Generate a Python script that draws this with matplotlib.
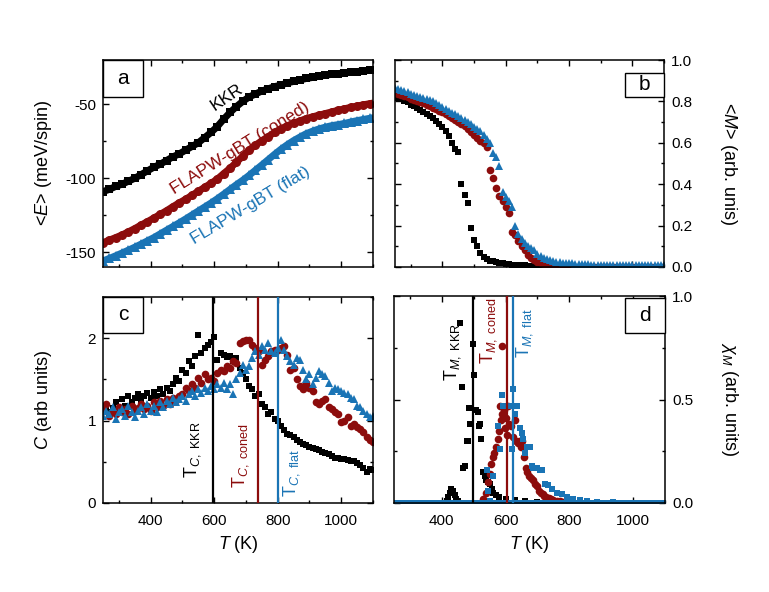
import numpy as np
import matplotlib
matplotlib.use('Agg')
import matplotlib.pyplot as plt
from matplotlib.ticker import MultipleLocator, FormatStrFormatter
from matplotlib.patches import Rectangle

plt.rcParams['font.family'] = ['Liberation Sans', 'DejaVu Sans']
plt.rcParams['mathtext.fontset'] = 'custom'
plt.rcParams['mathtext.rm'] = 'Liberation Sans'
plt.rcParams['mathtext.it'] = 'Liberation Sans:italic'
plt.rcParams['mathtext.bf'] = 'Liberation Sans:bold'
plt.rcParams['axes.unicode_minus'] = False

BLACK = '#000000'
RED = '#8c0c0c'
BLUE = '#1a74b5'

# ---------------- panel a: energy ----------------
T_a = np.arange(250, 1100, 20)
E_kkr = [-109, -107.5, -105.5, -104, -102, -100, -97.5, -95, -92.5, -90.5,
         -88, -85.5, -83.5, -81, -78.5, -76, -72.5, -69, -65, -60,
         -55.5, -51.5, -48, -45, -43, -41, -39.5, -38, -37, -35.5,
         -34.5, -33.5, -32.5, -31.8, -31, -30.3, -29.7, -29.2, -28.7, -28.2,
         -27.8, -27.4, -27]
E_coned = [-143.5, -141.8, -140.1, -138.3, -136.2, -134, -131.6, -129.3, -126.9, -124.4,
           -121.9, -119.2, -116.6, -114.2, -111.5, -108.8, -106.1, -103.4, -100.5, -96.8,
           -93.2, -89.2, -85, -80.8, -77.6, -74.6, -71.8, -69, -66.5, -64.5,
           -62.7, -61.2, -59.6, -58.4, -57.3, -56.2, -55.1, -54, -53, -52,
           -51.1, -50.3, -49.5]
E_flat = [-155.9, -154.2, -152.4, -150.5, -148.6, -146.6, -144.5, -142.3, -140.1, -137.6,
          -135.1, -132.6, -130.1, -127.5, -124.8, -122.1, -119.4, -116.7, -113.8, -110.7,
          -107.5, -104.3, -101.3, -98, -94.5, -91, -87.4, -83.8, -80.4, -77.3,
          -74.5, -72.1, -69.8, -68.1, -66.6, -65.4, -64.4, -63.7, -62.9, -61.9,
          -61, -60.2, -59.4]

# ---------------- panel b: magnetisation ----------------
T_b = np.arange(250, 1101, 10)
M_kkr = [0.820, 0.815, 0.810, 0.800, 0.795, 0.785, 0.780, 0.770, 0.760, 0.750,
         0.740, 0.730, 0.720, 0.705, 0.690, 0.675, 0.655, 0.635, 0.600, 0.570,
         0.555, 0.400, 0.350, 0.310, 0.190, 0.130, 0.100, 0.070, 0.050, 0.040,
         0.030, 0.028, 0.025, 0.020, 0.018, 0.015, 0.013, 0.012, 0.011, 0.010,
         0.009, 0.008, 0.007, 0.006, 0.006, 0.005, 0.005, 0.004, 0.004, 0.003,
         0.003, 0.002, 0.002, 0.002, 0.001, 0.001, 0, 0, 0, 0,
         0, 0, 0, 0, 0, 0, 0, 0, 0, 0,
         0, 0, 0, 0, 0, 0, 0, 0, 0, 0,
         0, 0, 0, 0, 0, 0]
M_coned = [0.840, 0.835, 0.830, 0.825, 0.820, 0.810, 0.805, 0.800, 0.795, 0.790,
           0.785, 0.780, 0.770, 0.765, 0.755, 0.750, 0.740, 0.730, 0.720, 0.710,
           0.700, 0.690, 0.680, 0.665, 0.650, 0.640, 0.625, 0.610, 0.600, 0.580,
           0.470, 0.430, 0.380, 0.345, 0.320, 0.290, 0.260, 0.170, 0.155, 0.125,
           0.100, 0.080, 0.060, 0.045, 0.035, 0.025, 0.020, 0.015, 0.010, 0.008,
           0.006, 0.005, 0.004, 0.003, 0.002, 0.002, 0, 0, 0, 0,
           0, 0, 0, 0, 0, 0, 0, 0, 0, 0,
           0, 0, 0, 0, 0, 0, 0, 0, 0, 0,
           0, 0, 0, 0, 0, 0]
M_flat = [0.865, 0.860, 0.855, 0.850, 0.845, 0.835, 0.830, 0.825, 0.820, 0.815,
          0.810, 0.805, 0.800, 0.790, 0.785, 0.775, 0.765, 0.755, 0.745, 0.740,
          0.730, 0.720, 0.710, 0.700, 0.690, 0.675, 0.665, 0.655, 0.640, 0.620,
          0.600, 0.550, 0.530, 0.490, 0.360, 0.340, 0.320, 0.290, 0.200, 0.160,
          0.135, 0.115, 0.100, 0.090, 0.080, 0.065, 0.055, 0.045, 0.040, 0.035,
          0.030, 0.025, 0.023, 0.021, 0.020, 0.018, 0.017, 0.016, 0.015, 0.014,
          0.013, 0.013, 0.012, 0.012, 0.011, 0.011, 0.010, 0.010, 0.010, 0.009,
          0.009, 0.009, 0.009, 0.008, 0.008, 0.008, 0.008, 0.008, 0.008, 0.008,
          0.008, 0.008, 0.008, 0.008, 0.008, 0.008]

# ---------------- panel c: specific heat ----------------
T_c = np.arange(250, 1101, 10)
C_kkr = [1.12, 1.18, 1.10, 1.15, 1.22, 1.12, 1.26, 1.18, 1.30, 1.22,
         1.28, 1.32, 1.25, 1.30, 1.34, 1.28, 1.35, 1.30, 1.38, 1.32,
         1.40, 1.36, 1.45, 1.52, 1.48, 1.62, 1.58, 1.72, 1.66, 1.78,
         2.04, 1.82, 1.88, 1.92, 1.95, 2.02, 1.74, 1.82, 1.80, 1.77,
         1.78, 1.72, 1.76, 1.64, 1.58, 1.50, 1.42, 1.38, 1.30, 1.32,
         1.20, 1.16, 1.08, 1.10, 1.02, 1.00, 0.94, 0.88, 0.84, 0.82,
         0.80, 0.77, 0.74, 0.71, 0.70, 0.68, 0.67, 0.65, 0.64, 0.62,
         0.61, 0.59, 0.57, 0.55, 0.55, 0.53, 0.53, 0.52, 0.51, 0.51,
         0.48, 0.46, 0.42, 0.38, 0.41, 0.40]
C_coned = [1.15, 1.20, 1.05, 1.12, 1.08, 1.16, 1.10, 1.14, 1.08, 1.18,
           1.12, 1.15, 1.20, 1.14, 1.18, 1.12, 1.22, 1.16, 1.24, 1.18,
           1.26, 1.20, 1.28, 1.25, 1.30, 1.32, 1.40, 1.36, 1.44, 1.40,
           1.52, 1.46, 1.56, 1.50, 1.52, 1.48, 1.58, 1.62, 1.60, 1.66,
           1.64, 1.72, 1.70, 1.94, 1.96, 1.98, 1.98, 1.92, 1.88, 1.85,
           1.68, 1.74, 1.78, 1.84, 1.86, 1.86, 1.88, 1.90, 1.80, 1.62,
           1.64, 1.50, 1.42, 1.38, 1.46, 1.40, 1.36, 1.22, 1.20, 1.24,
           1.26, 1.16, 1.14, 1.10, 1.08, 0.98, 1.00, 1.04, 0.94, 0.96,
           0.92, 0.90, 0.86, 0.80, 0.76, 0.74]
C_flat = [1.05, 1.12, 1.08, 1.16, 1.02, 1.10, 1.14, 1.06, 1.18, 1.10,
          1.04, 1.12, 1.16, 1.08, 1.20, 1.12, 1.18, 1.10, 1.22, 1.16,
          1.24, 1.20, 1.28, 1.22, 1.26, 1.30, 1.24, 1.32, 1.36, 1.30,
          1.38, 1.34, 1.40, 1.36, 1.42, 1.38, 1.44, 1.40, 1.46, 1.38,
          1.44, 1.32, 1.50, 1.58, 1.68, 1.62, 1.66, 1.76, 1.84, 1.80,
          1.90, 1.86, 1.94, 1.84, 1.82, 1.88, 1.98, 1.86, 1.78, 1.72,
          1.68, 1.76, 1.74, 1.62, 1.50, 1.56, 1.44, 1.52, 1.60, 1.56,
          1.54, 1.46, 1.36, 1.40, 1.38, 1.36, 1.34, 1.32, 1.28, 1.26,
          1.18, 1.16, 1.12, 1.08, 1.04, 1.06]
Tc_kkr, Tc_coned, Tc_flat = 597, 739, 800

# ---------------- panel d: susceptibility ----------------
T_d_base = np.arange(250, 1101, 5)
chi_base = [0.0] * len(T_d_base)
Td_kkr = [415, 420, 425, 430, 435, 440, 445, 450, 457, 462, 467, 472, 478, 481, 485, 488,
          499, 502, 508, 512, 516, 521, 523, 530, 535, 540, 545, 550, 556, 562, 570, 580,
          600, 630, 660, 700, 740, 780]
chi_kkr = [0.01, 0.03, 0.05, 0.07, 0.06, 0.04, 0.02, 0.01, 0.87, 0.56, 0.17, 0.18, 0.30, 0.30, 0.46, 0.38,
           0.77, 0.62, 0.45, 0.44, 0.37, 0.38, 0.31, 0.15, 0.13, 0.11, 0.10, 0.09, 0.07, 0.05, 0.04, 0.03,
           0.02, 0.015, 0.01, 0.007, 0.005, 0.003]
Td_coned = [530, 540, 545, 550, 555, 560, 565, 570, 575, 578, 582, 585, 588, 590, 594, 597,
            600, 603, 607, 612, 618, 623, 628, 633, 638, 643, 648, 653, 658, 663, 668, 674,
            680, 686, 692, 698, 704, 710, 716, 722, 728, 735, 742, 750, 760, 770, 780, 790]
chi_coned = [0.02, 0.05, 0.10, 0.14, 0.19, 0.22, 0.24, 0.27, 0.31, 0.35, 0.47, 0.40, 0.76, 0.43, 0.45, 0.36,
             0.41, 0.33, 0.47, 0.38, 0.37, 0.32, 0.40, 0.30, 0.29, 0.30, 0.27, 0.30, 0.22, 0.17, 0.15, 0.13,
             0.12, 0.11, 0.09, 0.08, 0.06, 0.05, 0.045, 0.035, 0.03, 0.025, 0.02, 0.015, 0.01, 0.008, 0.005, 0.003]
Td_flat = [541, 546, 551, 562, 577, 583, 588, 593, 603, 614, 619, 624, 630, 635, 645, 651,
           656, 661, 666, 677, 682, 687, 698, 708, 713, 724, 734, 745, 760, 776, 792, 813,
           834, 855, 886, 938]
chi_flat = [0.16, 0.06, 0.01, 0.13, 0.37, 0.26, 0.52, 0.47, 0.47, 0.47, 0.26, 0.55, 0.43, 0.47, 0.36, 0.34,
            0.31, 0.24, 0.27, 0.27, 0.18, 0.17, 0.17, 0.16, 0.16, 0.09, 0.085, 0.07, 0.05, 0.045, 0.03, 0.02,
            0.013, 0.01, 0.005, 0.003]
Tm_kkr, Tm_coned, Tm_flat = 497, 604, 624

# ---------------- figure ----------------
W, H = 769, 592
fig = plt.figure(figsize=(W / 100, H / 100), dpi=100)


def add_ax(x0, y0, x1, y1):
    return fig.add_axes([x0 / W, 1 - y1 / H, (x1 - x0) / W, (y1 - y0) / H])


ax_a = add_ax(103, 60, 373, 267)
ax_b = add_ax(395, 60, 664, 267)
ax_c = add_ax(103, 297, 373, 503)
ax_d = add_ax(394, 296, 665, 503)
boxes = {ax_a: ((103, 60, 373, 267), (103, 60, 143, 97), 'a'),
         ax_b: ((395, 60, 664, 267), (625, 73, 664, 97), 'b'),
         ax_c: ((103, 297, 373, 503), (103, 297, 143, 333), 'c'),
         ax_d: ((394, 296, 665, 503), (625, 298, 665, 333), 'd')}

for ax in (ax_a, ax_b, ax_c, ax_d):
    ax.set_xlim(250, 1100)
    ax.xaxis.set_major_locator(MultipleLocator(200))
    ax.xaxis.set_minor_locator(MultipleLocator(100))
    ax.tick_params(which='both', direction='in', top=True, right=True,
                   left=True, bottom=True, width=1.0, labelsize=11)
    ax.tick_params(axis='x', which='both', pad=8)
    ax.tick_params(axis='y', which='both', pad=5)
    ax.tick_params(which='major', length=4.5)
    ax.tick_params(which='minor', length=2.5)
    for s in ax.spines.values():
        s.set_linewidth(1.1)
    (ax0, ay0, ax1, ay1), (bx0, by0, bx1, by1), letter = boxes[ax]
    fx0 = (bx0 - ax0) / (ax1 - ax0)
    fx1 = (bx1 - ax0) / (ax1 - ax0)
    fy0 = 1 - (by1 - ay0) / (ay1 - ay0)
    fy1 = 1 - (by0 - ay0) / (ay1 - ay0)
    ax.add_patch(Rectangle((fx0, fy0), fx1 - fx0, fy1 - fy0, transform=ax.transAxes,
                           facecolor='white', edgecolor='black', lw=1.0, zorder=10,
                           clip_on=False))
    ax.text((fx0 + fx1) / 2, (fy0 + fy1) / 2, letter, transform=ax.transAxes,
            ha='center', va='center', fontsize=15, zorder=11)

for ax in (ax_a, ax_b):
    ax.tick_params(labelbottom=False)

# panel a
ax_a.plot(T_a, E_kkr, ls='-', lw=5, color=BLACK, marker='s', ms=6, mew=0)
ax_a.plot(T_a, E_coned, ls='-', lw=5, color=RED, marker='o', ms=6.5, mew=0)
ax_a.plot(T_a, E_flat, ls='-', lw=5, color=BLUE, marker='^', ms=7, mew=0)
ax_a.set_ylim(-160, -20)
ax_a.yaxis.set_major_locator(MultipleLocator(50))
ax_a.yaxis.set_minor_locator(MultipleLocator(25))
ax_a.set_ylabel(r'<$\mathit{E}$> (meV/spin)', fontsize=13)
ax_a.yaxis.set_label_coords(-0.18, 0.5)
ax_a.text(640, -45.5, 'KKR', rotation=34, rotation_mode='anchor', ha='center',
          va='center', fontsize=12.5, color=BLACK)
ax_a.text(680, -79.5, 'FLAPW-gBT (coned)', rotation=32, rotation_mode='anchor',
          ha='center', va='center', fontsize=12.5, color=RED)
ax_a.text(715, -118.5, 'FLAPW-gBT (flat)', rotation=31, rotation_mode='anchor',
          ha='center', va='center', fontsize=12.5, color=BLUE)

# panel b
ax_b.plot(T_b, M_kkr, ls='none', color=BLACK, marker='s', ms=4.5, mew=0)
ax_b.plot(T_b, M_coned, ls='none', color=RED, marker='o', ms=5.5, mew=0)
ax_b.plot(T_b, M_flat, ls='none', color=BLUE, marker='^', ms=6, mew=0)
ax_b.set_ylim(0, 1)
ax_b.yaxis.set_major_locator(MultipleLocator(0.2))
ax_b.yaxis.set_minor_locator(MultipleLocator(0.1))
ax_b.yaxis.set_major_formatter(FormatStrFormatter('%.1f'))
ax_b.tick_params(labelleft=False, labelright=True)
ax_b.yaxis.set_label_position('right')
ax_b.set_ylabel(r'<$\mathit{M}$> (arb. unis)', fontsize=13, rotation=270, va='bottom')
ax_b.yaxis.set_label_coords(1.2, 0.5)

# panel c
ax_c.plot(T_c, C_kkr, ls='none', color=BLACK, marker='s', ms=4.8, mew=0)
ax_c.plot(T_c, C_coned, ls='none', color=RED, marker='o', ms=5.5, mew=0)
ax_c.plot(T_c, C_flat, ls='none', color=BLUE, marker='^', ms=6, mew=0)
ax_c.axvline(Tc_kkr, color=BLACK, lw=1.6, zorder=5)
ax_c.axvline(Tc_coned, color=RED, lw=1.6, zorder=5)
ax_c.axvline(Tc_flat, color=BLUE, lw=1.6, zorder=5)
ax_c.set_ylim(0, 2.5)
ax_c.yaxis.set_major_locator(MultipleLocator(1))
ax_c.yaxis.set_minor_locator(MultipleLocator(0.5))
ax_c.set_ylabel(r'$\mathit{C}$ (arb units)', fontsize=13)
ax_c.yaxis.set_label_coords(-0.18, 0.5)
ax_c.set_xlabel(r'$\mathit{T}$ (K)', fontsize=13)
ax_c.text(533, 0.65, r'T$_{\mathit{C}\mathrm{,\ KKR}}$', rotation=90, ha='center',
          va='center', fontsize=13, color=BLACK)
ax_c.text(684, 0.57, r'T$_{\mathit{C}\mathrm{,\ coned}}$', rotation=90, ha='center',
          va='center', fontsize=13, color=RED)
ax_c.text(845, 0.37, r'T$_{\mathit{C}\mathrm{,\ flat}}$', rotation=90, ha='center',
          va='center', fontsize=13, color=BLUE)

# panel d
ax_d.plot(T_d_base, chi_base, ls='none', color=BLACK, marker='s', ms=4.5, mew=0)
ax_d.plot(Td_kkr, chi_kkr, ls='none', color=BLACK, marker='s', ms=4.8, mew=0)
ax_d.plot(Td_coned, chi_coned, ls='none', color=RED, marker='o', ms=5.5, mew=0)
ax_d.plot(T_d_base, chi_base, ls='none', color=BLUE, marker='s', ms=4.5, mew=0)
ax_d.plot(Td_flat, chi_flat, ls='none', color=BLUE, marker='s', ms=4.8, mew=0)
ax_d.axvline(Tm_kkr, color=BLACK, lw=1.6, zorder=5)
ax_d.axvline(Tm_coned, color=RED, lw=1.6, zorder=5)
ax_d.axvline(Tm_flat, color=BLUE, lw=1.6, zorder=5)
ax_d.set_ylim(0, 1)
ax_d.yaxis.set_major_locator(MultipleLocator(0.5))
ax_d.yaxis.set_minor_locator(MultipleLocator(0.25))
ax_d.yaxis.set_major_formatter(FormatStrFormatter('%.1f'))
ax_d.tick_params(labelleft=False, labelright=True)
ax_d.yaxis.set_label_position('right')
ax_d.set_ylabel(r'$\chi_{M}$ (arb. units)', fontsize=13, rotation=270, va='bottom')
ax_d.yaxis.set_label_coords(1.2, 0.5)
ax_d.set_xlabel(r'$\mathit{T}$ (K)', fontsize=13)
ax_d.text(435, 0.73, r'T$_{\mathit{M}\mathrm{,\ KKR}}$', rotation=90, ha='center',
          va='center', fontsize=13, color=BLACK)
ax_d.text(545, 0.83, r'T$_{\mathit{M}\mathrm{,\ coned}}$', rotation=90, ha='center',
          va='center', fontsize=13, color=RED)
ax_d.text(658, 0.82, r'T$_{\mathit{M}\mathrm{,\ flat}}$', rotation=90, ha='center',
          va='center', fontsize=13, color=BLUE)

fig.savefig('out.png', dpi=100)
